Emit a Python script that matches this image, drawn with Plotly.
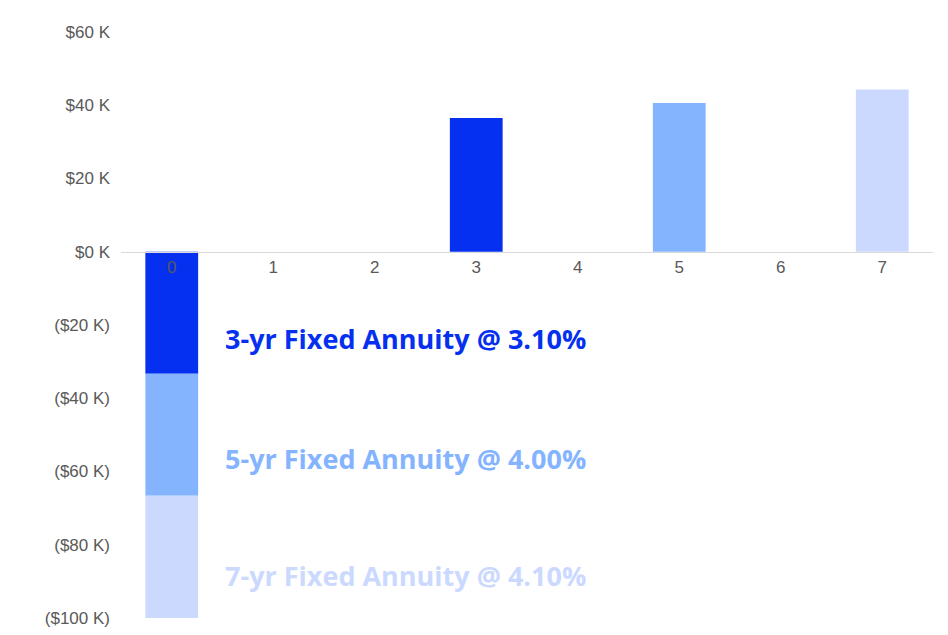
import plotly.graph_objects as go

years = [0, 1, 2, 3, 4, 5, 6, 7]
fixed3 = [-33.3, None, None, 36.5, None, None, None, None]
fixed5 = [-33.3, None, None, None, None, 40.6, None, None]
fixed7 = [-33.4, None, None, None, None, None, None, 44.3]
names = ["3-yr Fixed Annuity @ 3.10%", "5-yr Fixed Annuity @ 4.00%", "7-yr Fixed Annuity @ 4.10%"]
colors = ["#0530F0", "#85B4FF", "#CCD9FF"]
label_y = [-23.8, -56.4, -88.5]
ytick_vals = [60, 40, 20, 0, -20, -40, -60, -80, -100]
ytick_text = ["$60 K", "$40 K", "$20 K", "$0 K", "($20 K)", "($40 K)", "($60 K)", "($80 K)", "($100 K)"]

fig = go.Figure()
for vals, name, c in zip([fixed3, fixed5, fixed7], names, colors):
    fig.add_trace(go.Bar(x=years, y=vals, name=name, marker_color=c, width=0.52,
                         marker_line_width=0))

for name, c, yy in zip(names, colors, label_y):
    fig.add_annotation(x=0.5, y=yy, xref="x", yref="y", text="<b>" + name + "</b>",
                       showarrow=False, xanchor="left", font=dict(size=27, color=c, family="Open Sans"))

fig.update_layout(
    barmode="relative",
    width=948, height=635,
    margin=dict(l=113, r=23, t=24, b=25),
    plot_bgcolor="white", paper_bgcolor="white",
    showlegend=False,
    font=dict(family="Liberation Sans", size=17, color="#595959"),
    xaxis=dict(range=[-0.5, 7.5], tickvals=years, anchor="free", position=0.625,
               showline=True, linecolor="#D9D9D9", linewidth=1, showgrid=False,
               zeroline=False, ticks="", automargin=False),
    yaxis=dict(range=[-100, 60], tickvals=ytick_vals, ticktext=ytick_text,
               showgrid=False, zeroline=False, ticklabelstandoff=10, automargin=False),
)

fig.write_html("out.html")
